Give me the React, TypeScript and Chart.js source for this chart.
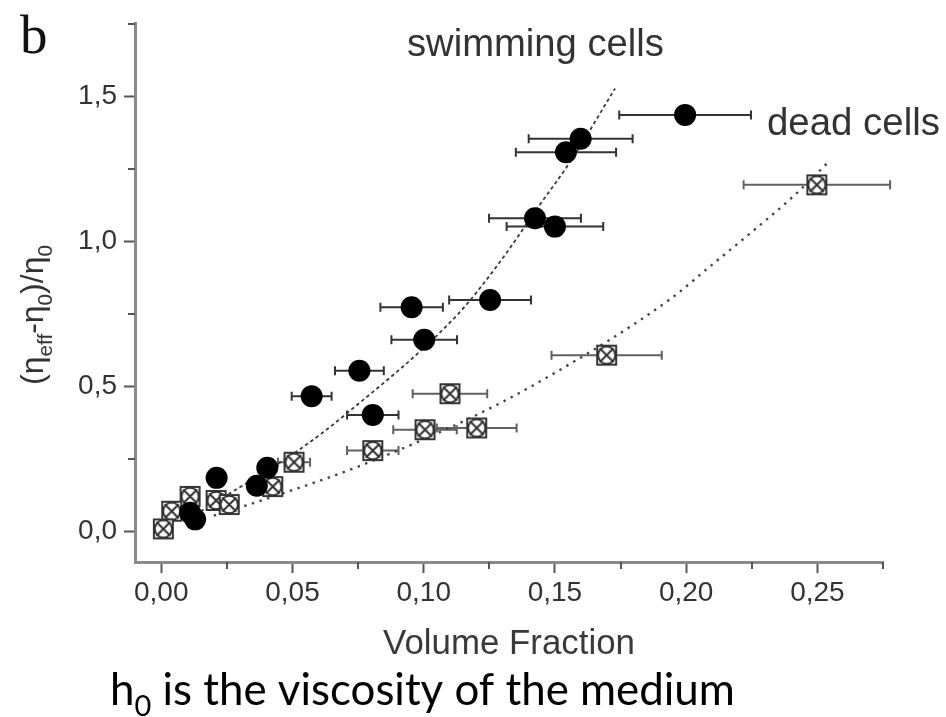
import React, { useEffect, useRef } from 'react';
import { Chart, registerables } from 'chart.js';

Chart.register(...registerables);

// ---------------- data ----------------
const swimX = [0.1996, 0.1598, 0.1542, 0.1424, 0.150, 0.1253, 0.0954, 0.1002, 0.0755, 0.0573, 0.0806, 0.0404, 0.0364, 0.0211, 0.0110, 0.0129];
const swimY = [1.436, 1.354, 1.307, 1.080, 1.051, 0.798, 0.773, 0.661, 0.554, 0.466, 0.402, 0.220, 0.158, 0.185, 0.065, 0.042];
const swimXErr = [0.0251, 0.0198, 0.0191, 0.0175, 0.0184, 0.0156, 0.0119, 0.0125, 0.0093, 0.0076, 0.0098, 0, 0, 0, 0, 0];

const deadX = [0.2498, 0.1697, 0.1100, 0.1202, 0.1005, 0.0806, 0.0506, 0.0425, 0.0110, 0.0209, 0.0259, 0.0040, 0.0008];
const deadY = [1.195, 0.608, 0.475, 0.357, 0.351, 0.279, 0.239, 0.155, 0.121, 0.107, 0.093, 0.070, 0.009];
const deadXErr = [0.0279, 0.0210, 0.0142, 0.0152, 0.0121, 0.0098, 0.0061, 0, 0, 0, 0, 0, 0];

const swimFitX = [0.015, 0.0262, 0.0529, 0.0700, 0.1126, 0.1278, 0.1443, 0.1558, 0.1729];
const swimFitY = [0.070, 0.132, 0.284, 0.402, 0.745, 0.914, 1.127, 1.274, 1.527];

const deadFitX = [0.020, 0.0313, 0.0491, 0.0745, 0.1177, 0.1481, 0.1939, 0.2091, 0.2256, 0.2408, 0.2536];
const deadFitY = [0.055, 0.087, 0.140, 0.222, 0.391, 0.537, 0.801, 0.914, 1.037, 1.155, 1.268];

const xMajorTicks = [0, 0.05, 0.10, 0.15, 0.20, 0.25];
const xMajorLabels = ['0,00', '0,05', '0,10', '0,15', '0,20', '0,25'];
const xMinorTicks = [0.025, 0.075, 0.125, 0.175, 0.225, 0.275];
const yMajorTicks = [0, 0.5, 1.0, 1.5];
const yMajorLabels = ['0,0', '0,5', '1,0', '1,5'];
const yMinorTicks = [0.25, 0.75, 1.25, 1.75];

const seriesLabels = ['swimming cells', 'dead cells'];
const xTitle = 'Volume Fraction';
const panelLabel = 'b';
const captionMain = 'h';
const captionSub = '0';
const captionRest = ' is the viscosity of the medium';
// y title runs: [text, isSubscript]
const yTitleRuns: [string, boolean][] = [['(η', false], ['eff', true], ['-η', false], ['0', true], [')/η', false], ['0', true]];

// --------------------------------------
const near = (a: number, b: number) => Math.abs(a - b) < 1e-6;
const SANS = '"Liberation Sans", Arial, sans-serif';

function makeDeadMarker() {
  const c = document.createElement('canvas');
  c.width = 23;
  c.height = 23;
  const g = c.getContext('2d')!;
  g.fillStyle = '#ffffff';
  g.fillRect(1, 1, 21, 21);
  g.strokeStyle = '#2e2e2e';
  g.lineWidth = 1.9;
  g.strokeRect(2, 2, 19, 19);
  g.beginPath();
  g.arc(11.5, 11.5, 8.6, 0, Math.PI * 2);
  g.stroke();
  g.beginPath();
  g.moveTo(4.5, 4.5);
  g.lineTo(18.5, 18.5);
  g.moveTo(18.5, 4.5);
  g.lineTo(4.5, 18.5);
  g.stroke();
  return c;
}

function fitSize(ctx: CanvasRenderingContext2D, text: string, family: string, target: number) {
  ctx.font = `100px ${family}`;
  const w = ctx.measureText(text).width;
  return (100 * target) / w;
}

const decorPlugin = {
  id: 'decor',
  beforeDatasetsDraw(chart: any) {
    const ctx: CanvasRenderingContext2D = chart.ctx;
    const xs = chart.scales.x;
    const ys = chart.scales.y;
    const drawBars = (X: number[], Y: number[], E: number[], color: string) => {
      ctx.save();
      ctx.strokeStyle = color;
      ctx.lineWidth = 2;
      for (let i = 0; i < X.length; i++) {
        if (!E[i]) continue;
        const x1 = xs.getPixelForValue(X[i] - E[i]);
        const x2 = xs.getPixelForValue(X[i] + E[i]);
        const y = ys.getPixelForValue(Y[i]);
        ctx.beginPath();
        ctx.moveTo(x1, y);
        ctx.lineTo(x2, y);
        ctx.moveTo(x1, y - 4.5);
        ctx.lineTo(x1, y + 4.5);
        ctx.moveTo(x2, y - 4.5);
        ctx.lineTo(x2, y + 4.5);
        ctx.stroke();
      }
      ctx.restore();
    };
    drawBars(deadX, deadY, deadXErr, '#606060');
    drawBars(swimX, swimY, swimXErr, '#333333');
  },
  afterDraw(chart: any) {
    const ctx: CanvasRenderingContext2D = chart.ctx;
    const xs = chart.scales.x;
    const ys = chart.scales.y;
    const area = chart.chartArea;

    // minor ticks
    ctx.save();
    ctx.strokeStyle = '#555';
    ctx.lineWidth = 2;
    ctx.beginPath();
    xMinorTicks.forEach((v) => {
      const px = Math.round(xs.getPixelForValue(v));
      ctx.moveTo(px, area.bottom);
      ctx.lineTo(px, area.bottom + 7);
    });
    yMinorTicks.forEach((v) => {
      const py = Math.round(ys.getPixelForValue(v));
      ctx.moveTo(area.left - 7, py);
      ctx.lineTo(area.left, py);
    });
    ctx.stroke();
    ctx.restore();

    ctx.save();
    ctx.textAlign = 'left';
    ctx.textBaseline = 'alphabetic';

    // panel label
    ctx.fillStyle = '#111';
    ctx.font = '55px "Liberation Serif", serif';
    ctx.fillText(panelLabel, 20, 53);

    // series labels
    ctx.fillStyle = '#333';
    let s = fitSize(ctx, seriesLabels[0], SANS, 257);
    ctx.font = `${s}px ${SANS}`;
    ctx.fillText(seriesLabels[0], 407, 56);
    s = fitSize(ctx, seriesLabels[1], SANS, 173);
    ctx.font = `${s}px ${SANS}`;
    ctx.fillText(seriesLabels[1], 767, 135);

    // x title
    ctx.fillStyle = '#3a3a3a';
    s = fitSize(ctx, xTitle, SANS, 252);
    ctx.font = `${s}px ${SANS}`;
    ctx.textAlign = 'center';
    ctx.fillText(xTitle, (area.left + area.right) / 2, 654);
    ctx.textAlign = 'left';

    // y title (rotated, with subscripts)
    const measureRuns = (S: number) => {
      let w = 0;
      yTitleRuns.forEach(([t, sub]) => {
        ctx.font = `${sub ? S * 0.65 : S}px ${SANS}`;
        w += ctx.measureText(t).width;
      });
      return w;
    };
    const S = (30 * 140) / measureRuns(30);
    const W = measureRuns(S);
    ctx.save();
    ctx.translate(43, 315);
    ctx.rotate(-Math.PI / 2);
    ctx.fillStyle = '#333';
    let cx = -W / 2;
    yTitleRuns.forEach(([t, sub]) => {
      ctx.font = `${sub ? S * 0.65 : S}px ${SANS}`;
      ctx.fillText(t, cx, sub ? S * 0.27 : 0);
      cx += ctx.measureText(t).width;
    });
    ctx.restore();

    // caption
    const CAP = '"Lato", "Open Sans", sans-serif';
    const capWidth = (C: number) => {
      ctx.font = `${C}px ${CAP}`;
      let w = ctx.measureText(captionMain).width + ctx.measureText(captionRest).width;
      ctx.font = `${C * 0.66}px ${CAP}`;
      w += ctx.measureText(captionSub).width;
      return w;
    };
    const C = (40 * 625) / capWidth(40);
    ctx.fillStyle = '#000';
    let x = 110;
    ctx.font = `${C}px ${CAP}`;
    ctx.fillText(captionMain, x, 705);
    x += ctx.measureText(captionMain).width;
    ctx.font = `${C * 0.66}px ${CAP}`;
    ctx.fillText(captionSub, x, 705 + C * 0.24);
    x += ctx.measureText(captionSub).width;
    ctx.font = `${C}px ${CAP}`;
    ctx.fillText(captionRest, x, 705);

    ctx.restore();
  },
};

export default function App() {
  const ref = useRef<HTMLCanvasElement>(null);

  useEffect(() => {
    const canvas = ref.current!;
    const deadMarker = makeDeadMarker();
    const tickFont = { family: SANS, size: 28 };

    const chart = new Chart(canvas, {
      type: 'scatter',
      data: {
        datasets: [
          {
            label: seriesLabels[0],
            data: swimX.map((x, i) => ({ x, y: swimY[i] })),
            pointStyle: 'circle',
            pointRadius: 11,
            pointHoverRadius: 11,
            pointBackgroundColor: '#000',
            pointBorderColor: '#000',
            pointBorderWidth: 0,
            order: 0,
          } as any,
          {
            label: seriesLabels[1],
            data: deadX.map((x, i) => ({ x, y: deadY[i] })),
            pointStyle: deadMarker,
            pointRadius: 11.5,
            pointHoverRadius: 11.5,
            order: 1,
          } as any,
          {
            type: 'line',
            label: 'swimming fit',
            data: swimFitX.map((x, i) => ({ x, y: swimFitY[i] })),
            borderColor: '#3a3a3a',
            borderWidth: 1.8,
            borderDash: [3.5, 3],
            pointRadius: 0,
            cubicInterpolationMode: 'monotone',
            fill: false,
            order: 2,
          } as any,
          {
            type: 'line',
            label: 'dead fit',
            data: deadFitX.map((x, i) => ({ x, y: deadFitY[i] })),
            borderColor: '#444',
            borderWidth: 2.4,
            borderDash: [2.4, 5.6],
            pointRadius: 0,
            cubicInterpolationMode: 'monotone',
            fill: false,
            order: 3,
          } as any,
        ],
      },
      options: {
        responsive: false,
        maintainAspectRatio: false,
        animation: false,
        devicePixelRatio: 1,
        events: [],
        layout: { padding: { top: 12, right: 63, left: 0, bottom: 0 } },
        plugins: {
          legend: { display: false },
          tooltip: { enabled: false },
          title: { display: false },
        },
        scales: {
          x: {
            type: 'linear',
            min: -0.01,
            max: 0.275,
            afterBuildTicks: (scale: any) => {
              scale.ticks = [...xMajorTicks, ...xMinorTicks].sort((a, b) => a - b).map((v) => ({ value: v }));
            },
            afterFit: (scale: any) => {
              scale.height = 155;
            },
            ticks: {
              autoSkip: false,
              maxRotation: 0,
              minRotation: 0,
              padding: 3,
              color: '#333',
              font: tickFont,
              callback: (v: any) => {
                const i = xMajorTicks.findIndex((t) => near(t, Number(v)));
                return i >= 0 ? xMajorLabels[i] : '';
              },
            },
            grid: {
              display: true,
              drawOnChartArea: false,
              drawTicks: true,
              tickLength: 11,
              tickWidth: 2,
              tickColor: (c: any) => (xMajorTicks.some((t) => near(t, c.tick?.value)) ? '#555' : 'rgba(0,0,0,0)'),
            },
            border: { display: true, color: '#8a8a8a', width: 3 },
          },
          y: {
            type: 'linear',
            min: -0.105,
            max: 1.75,
            afterBuildTicks: (scale: any) => {
              scale.ticks = [...yMajorTicks, ...yMinorTicks].sort((a, b) => a - b).map((v) => ({ value: v }));
            },
            afterFit: (scale: any) => {
              scale.width = 135;
            },
            ticks: {
              autoSkip: false,
              padding: 7,
              color: '#333',
              font: tickFont,
              callback: (v: any) => {
                const i = yMajorTicks.findIndex((t) => near(t, Number(v)));
                return i >= 0 ? yMajorLabels[i] : '';
              },
            },
            grid: {
              display: true,
              drawOnChartArea: false,
              drawTicks: true,
              tickLength: 11,
              tickWidth: 2,
              tickColor: (c: any) => (yMajorTicks.some((t) => near(t, c.tick?.value)) ? '#555' : 'rgba(0,0,0,0)'),
            },
            border: { display: true, color: '#8a8a8a', width: 3 },
          },
        },
      },
      plugins: [decorPlugin],
    } as any);

    return () => chart.destroy();
  }, []);

  return (
    <div style={{ position: 'absolute', left: 0, top: 0, width: 946, height: 717, background: '#fff' }}>
      <canvas ref={ref} width={946} height={717} style={{ display: 'block', width: 946, height: 717 }} />
    </div>
  );
}
